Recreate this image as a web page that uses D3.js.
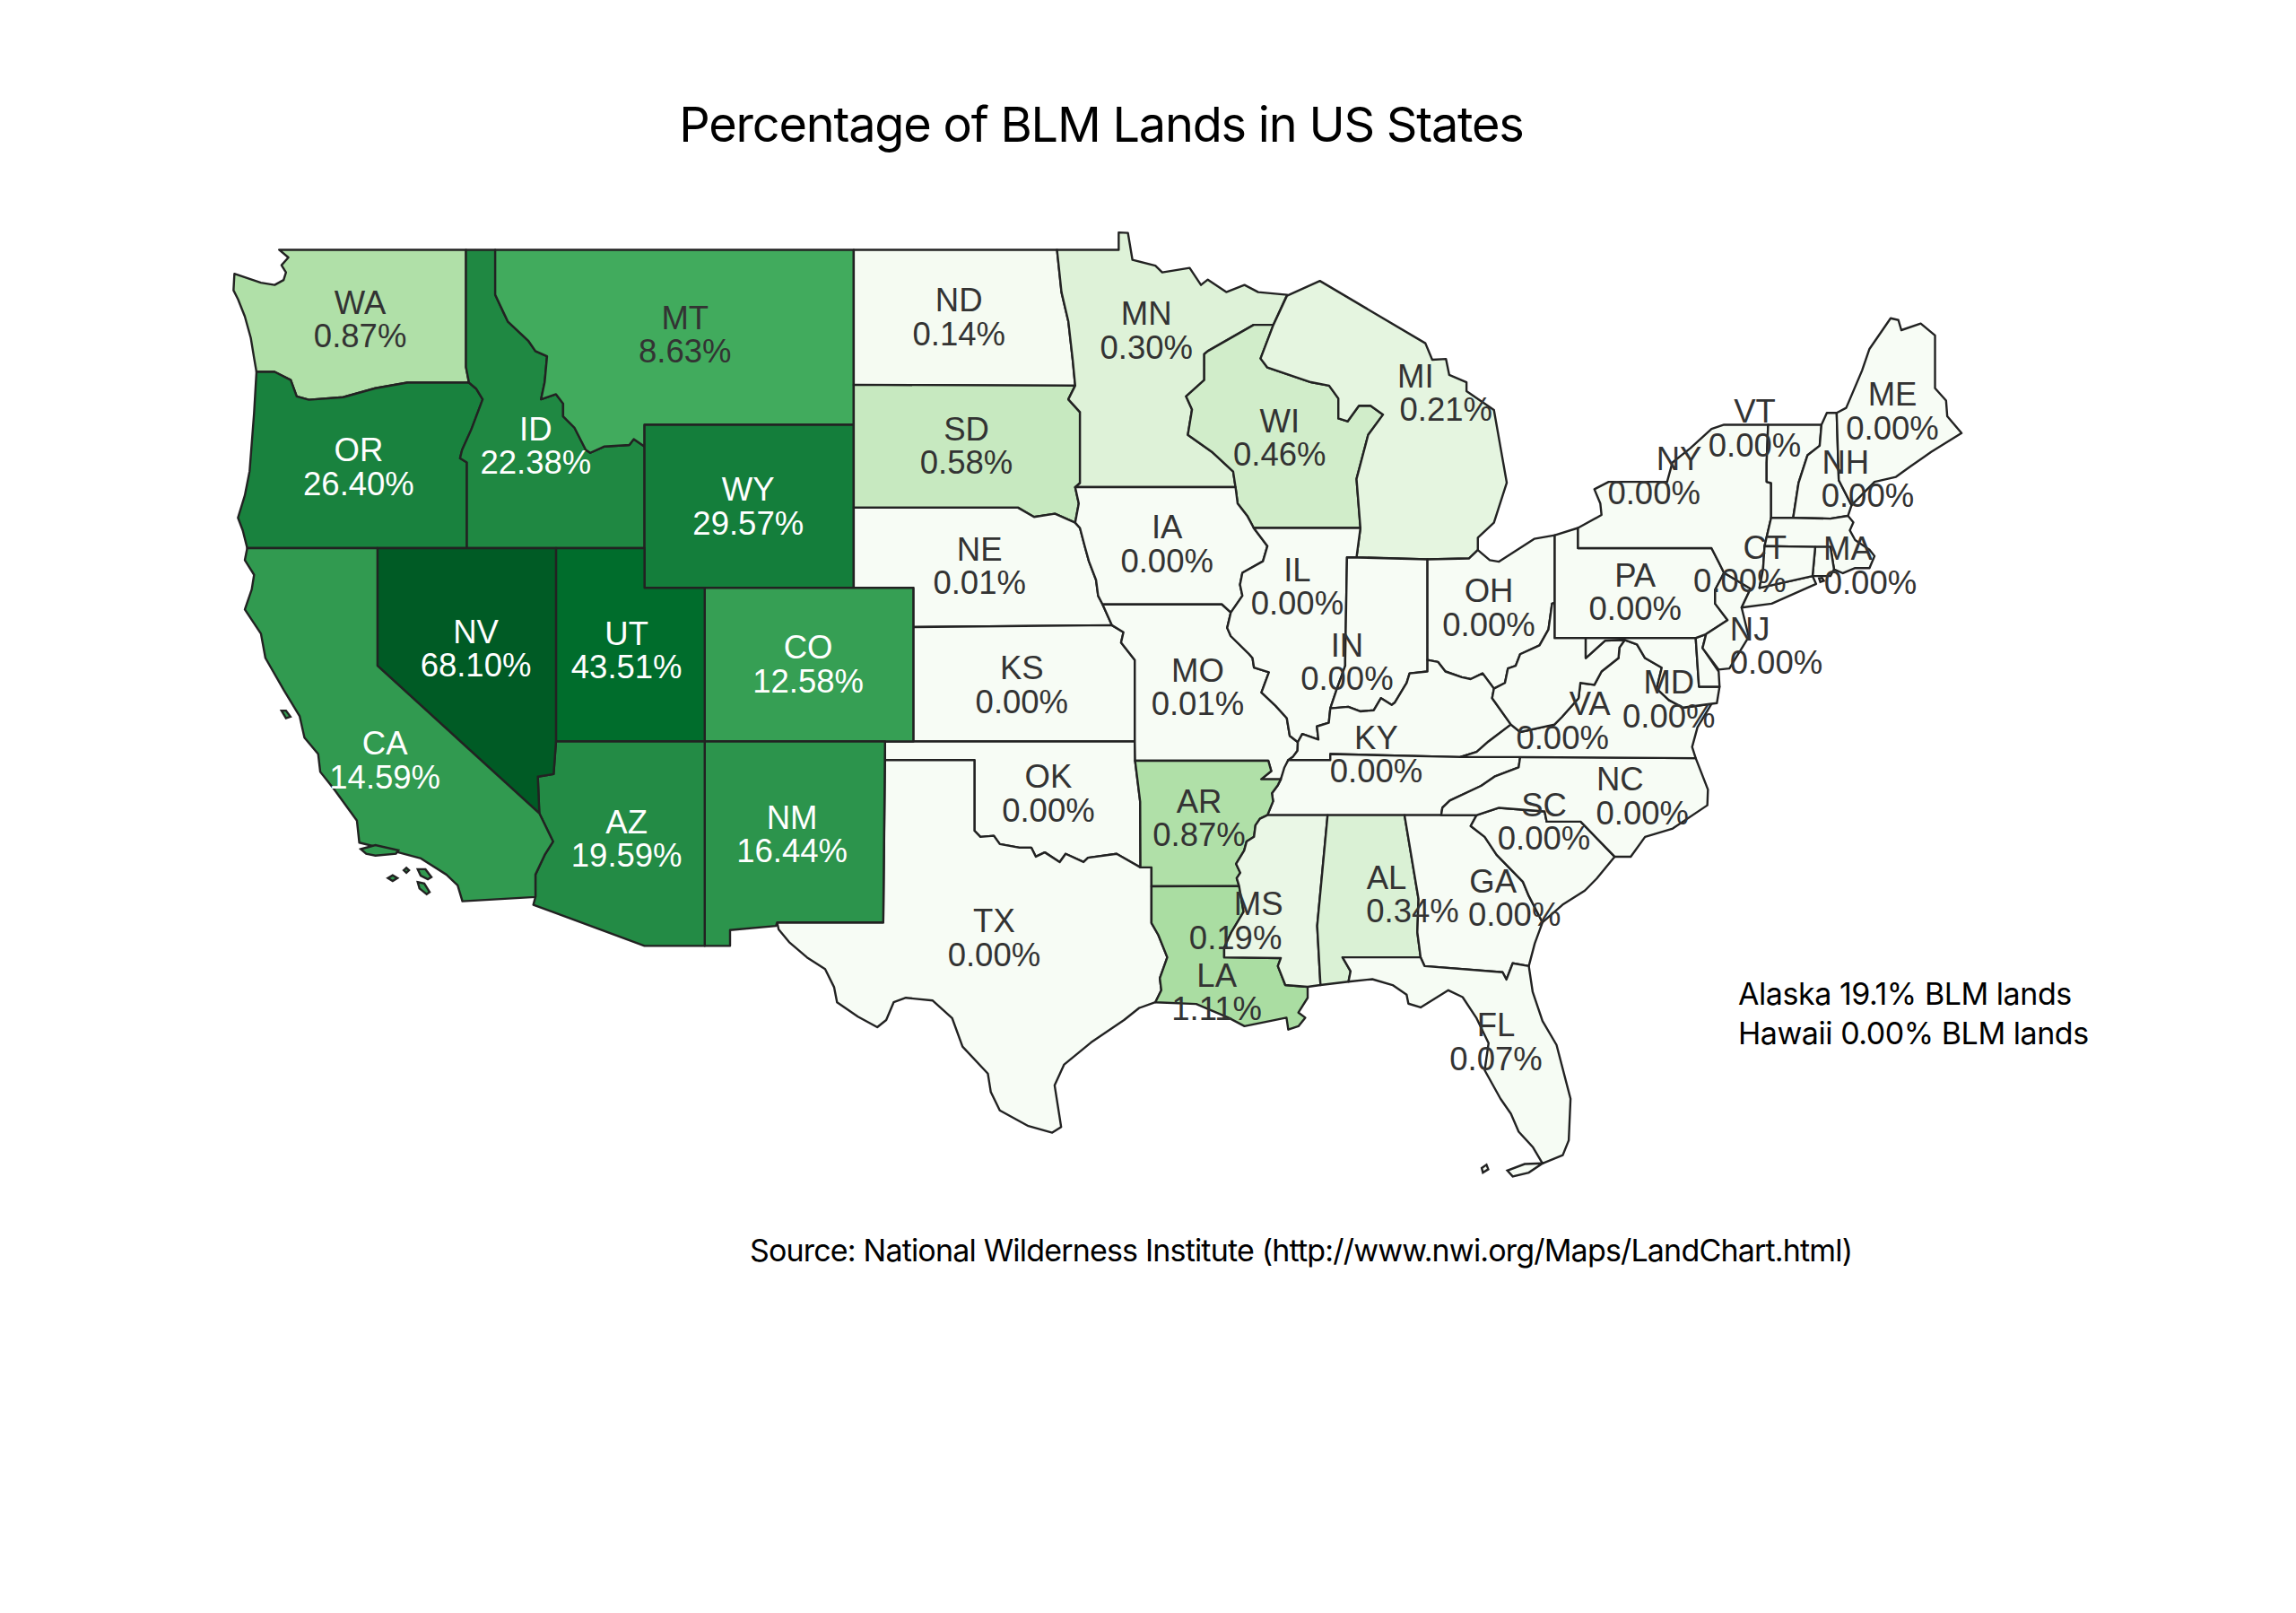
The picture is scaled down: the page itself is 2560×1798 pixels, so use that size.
<!DOCTYPE html>
<html>
<head>
<meta charset="utf-8">
<title>Percentage of BLM Lands in US States</title>
<script src="https://cdn.jsdelivr.net/npm/d3@7"></script>
<style>
  html, body { margin: 0; padding: 0; background: #fff; }
</style>
</head>
<body>
<svg id="chart" width="2560" height="1798"></svg>
<script>
// shared borders, lon/lat
var columbia = [[-124.09,46.24],[-123.48,46.24],[-122.94,46.05],[-122.74,45.67],[-122.33,45.59],[-121.18,45.65],[-120.1,45.86],[-119.03,45.99],[-116.96,45.99]];
var snake = [[-116.96,45.99],[-116.72,45.85],[-116.5,45.6],[-116.88,44.89],[-117.19,44.4],[-117.26,44.2],[-117.03,44.1],[-117.03,42]];
var bitterroot = [[-116.08,49],[-116.08,48],[-115.8,47.6],[-115.65,47.39],[-114.96,46.95],[-114.73,46.72],[-114.34,46.6],[-114.42,46],[-114.54,45.6],[-114.04,45.72],[-113.8,45.5],[-113.8,45.2],[-113.42,44.93],[-113.04,44.4],[-112.89,44.33],[-112.43,44.48],[-111.58,44.52],[-111.43,44.66],[-111.07,44.48]];
var nvCa = [[-120.03,42],[-120.03,39],[-114.6,35.05]];
var coloradoRiver = [[-114.6,35.05],[-114.14,34.27],[-114.42,33.9],[-114.73,33.35],[-114.73,32.72]];
var missouriIA = [[-96.62,42.63],[-96.46,42.5],[-96.3,42.05],[-96.16,41.67],[-95.92,41.2],[-95.85,40.8],[-95.7,40.58]];
var missouriMO = [[-95.7,40.58],[-95.39,40.05]];
var missouriKS = [[-95.39,40.05],[-95.0,39.87],[-95.08,39.6],[-94.62,39.15]];
var siouxSD = [[-96.62,43.5],[-96.5,43.1],[-96.62,42.63]];
var redRiverND = [[-96.62,45.92],[-96.7,46.5],[-96.85,47.4],[-97.08,48.06],[-97.23,49]];
var stCroix = [[-90.63,47.32],[-92.17,46.72],[-92.29,46.65],[-92.29,46.05],[-92.9,45.67],[-92.7,45.36],[-92.84,44.76],[-92.01,44.34],[-91.32,43.88],[-91.24,43.5]];
var missWI = [[-91.24,43.5],[-91.17,43.1],[-90.85,42.8],[-90.63,42.5]];
var missIA = [[-90.63,42.5],[-90.17,42.05],[-90.32,41.67],[-91.01,41.38],[-91.09,41.08],[-91.01,40.8],[-91.4,40.37]];
var missMO = [[-91.4,40.37],[-91.52,39.98],[-91.4,39.77],[-90.78,39.3],[-90.67,39.2],[-90.62,38.95],[-90.12,38.83],[-90.37,38.3],[-89.9,37.95],[-89.52,37.62],[-89.42,37.15],[-89.15,36.98]];
var missKY = [[-89.15,36.98],[-89.16,36.75],[-89.32,36.58],[-89.47,36.5]];
var missTN = [[-89.47,36.5],[-89.6,36.3],[-89.72,35.98],[-89.82,35.82],[-90.02,35.6],[-89.98,35.38],[-90.17,35]];
var missAR = [[-90.17,35],[-90.42,34.9],[-90.57,34.72],[-90.62,34.4],[-90.87,34.27],[-90.95,34.02],[-91.22,33.65],[-91.08,33.4],[-91.2,33.25],[-91.12,33.03]];
var missLA = [[-91.12,33.03],[-90.97,32.3],[-91.38,31.72],[-91.62,31.28],[-91.62,31],[-89.72,30.98],[-89.82,30.75],[-89.57,30.2]];
var ohioIL = [[-89.15,36.98],[-89,37.2],[-88.46,37.05],[-88.51,37.4],[-88.11,37.5],[-88.06,37.88]];
var wabash = [[-88.06,37.88],[-87.86,38.35],[-87.56,39],[-87.56,39.15],[-87.5,41.77]];
var ohioIN = [[-88.06,37.88],[-87.46,37.92],[-87.06,37.8],[-86.6,37.83],[-86.36,38.15],[-86,37.97],[-85.9,38.03],[-85.5,38.55],[-85.4,38.8],[-84.8,38.85],[-84.8,39.15]];
var ohioOH = [[-84.8,39.15],[-84.45,39.1],[-84.2,38.85],[-83.65,38.7],[-83.35,38.65],[-82.95,38.8],[-82.57,38.4]];
var ohioWV = [[-82.57,38.4],[-82.2,38.55],[-82.1,38.93],[-81.84,39],[-81.69,39.3],[-81.04,39.53],[-80.74,39.94],[-80.62,40.6],[-80.53,40.62]];
var redRiverTX = [[-100,34.57],[-99.8,34.4],[-99.35,34.43],[-99.15,34.2],[-98.49,34.1],[-98.09,34.1],[-97.94,33.85],[-97.64,33.97],[-97.14,33.7],[-96.94,33.93],[-96.34,33.7],[-96.19,33.82],[-95.23,33.93],[-94.43,33.55]];
var sabine = [[-94.06,33.02],[-94.06,31.98],[-93.83,31.64],[-93.53,31],[-93.78,30.4],[-93.73,30.05],[-93.93,29.7]];
var tnNc = [[-81.69,36.58],[-81.74,36.3],[-82.55,36.05],[-83,35.8],[-84.05,35.4],[-84.3,35.2],[-84.34,35]];
var ncSc = [[-78.52,33.85],[-79.66,34.82],[-80.8,34.82],[-80.87,35.1],[-82.4,35.2],[-83.15,35]];
var savannah = [[-83.15,35],[-83.35,34.7],[-82.88,34.4],[-82.48,33.9],[-81.6,33.15],[-81.4,32.75],[-80.94,32]];
var gaFl = [[-81.4,30.75],[-81.94,30.83],[-82.15,30.36],[-82.28,30.57],[-84.9,30.75],[-85.03,31]];
var alGa = [[-85.57,35],[-85.1,32.66],[-85.14,31.72],[-85.03,31]];
var msAl = [[-88.15,35],[-88.5,31.9],[-88.39,30.2]];
var kyVa = [[-83.7,36.58],[-83.15,36.72],[-82.75,37],[-82,37.45]];
var bigSandy = [[-82.57,38.4],[-82.63,38.15],[-82,37.45]];
var vaWv = [[-82,37.45],[-81.69,37.25],[-80.54,37.45],[-80.29,37.65],[-79.73,38.15],[-79.67,38.55],[-79.2,38.5],[-78.96,38.85],[-78.39,39.2],[-78.36,39.47],[-78.18,39.67]];
var potomac = [[-78.18,39.67],[-77.77,39.55],[-77.5,39.2],[-76.94,38.95],[-77.11,38.4],[-76.7,38.1],[-76.22,37.9],[-75.27,38]];
var delawareRiver = [[-75.27,42],[-75.03,41.65],[-74.85,41.38],[-75.15,40.95],[-75.15,40.6],[-74.73,40.18],[-75.45,39.82]];
var ctCoast = [[-73.66,41],[-71.88,41.3]];
var ctRiverVt = [[-71.58,45],[-71.64,44.5],[-72.05,44.27],[-72.35,43.6],[-72.53,42.75]];
var vtNy = [[-73.37,45],[-73.42,44.1],[-73.42,43.63],[-73.27,43.6],[-73.27,42.75]];
var nyMaCt = [[-73.27,42.75],[-73.49,42.05],[-73.54,41.47],[-73.66,41]];
var neMe = [[-71.07,45.28],[-71,43.67],[-70.57,43.06]];
var wiMi = [[-89.97,47.32],[-90.4,46.55],[-90.17,46.34],[-88.71,46],[-88.1,45.92],[-87.79,45.62],[-87.79,45.15],[-87.48,45.08],[-87.1,45.45],[-86.71,45.45],[-86.29,45.24],[-86.79,44.76],[-87.18,43.7],[-87.05,42.5]];

function rev(a) { return a.slice().reverse(); }
function ring() { return [].concat.apply([], arguments); }

// one outline per state
var WA = ring([[-123.33,49],[-123.02,48.83],[-123.25,48.66],[-123.1,48.5],[-123.18,48.33],[-123.48,48.22],[-123.94,48.27],[-124.83,48.47],[-124.86,48.1],[-124.71,47.9],[-124.48,47.51],[-124.28,47.02],[-124.17,46.56]], columbia, [[-117.06,46.35],[-117.06,49]]);
var OR = ring(columbia, snake, [[-124.4,42],[-124.55,42.44],[-124.71,42.75],[-124.48,43.3],[-124.32,43.89],[-124.17,45.28]]);
var ID = ring([[-117.06,49]], bitterroot, [[-111.07,42]], rev(snake), [[-117.06,46.35]]);
var MT = ring(bitterroot, [[-111.07,45],[-104.05,45],[-104.05,49]]);
var WY = [[-111.07,45],[-104.05,45],[-104.05,41],[-111.07,41]];
var ND = ring([[-104.05,49]], rev(redRiverND), [[-104.05,45.94]]);
var SD = ring([[-104.05,45.94]], [[-96.62,45.92],[-96.85,45.6],[-96.46,45.3],[-96.46,43.6]], siouxSD, [[-97.3,42.85],[-98,42.77],[-98.54,43],[-104.05,43]]);
var NE = ring([[-104.05,43],[-98.54,43],[-98,42.77],[-97.3,42.85]], missouriIA, missouriMO, [[-102.05,40],[-102.05,41],[-104.05,41]]);
var KS = ring([[-102.05,40]], missouriKS, [[-94.62,37],[-102.05,37]]);
var OK = ring([[-103,37],[-94.62,37],[-94.61,36.48],[-94.44,35.37],[-94.43,33.55]], rev(redRiverTX), [[-100,36.5],[-103,36.5]]);
var TX = ring([[-103,36.5],[-100,36.5]], redRiverTX, [[-94.06,33.55]], sabine, [[-94.48,29.53],[-94.98,29.18],[-96.09,28.52],[-96.99,27.87],[-97.31,27.25],[-97.09,26],[-97.39,25.83],[-98.19,26.03],[-99.15,26.5],[-99.45,27.05],[-99.55,27.6],[-100.4,28.4],[-100.75,29.24],[-101.4,29.75],[-102.3,29.83],[-102.71,29.7],[-102.96,29.18],[-103.26,28.97],[-103.91,29.28],[-104.61,29.7],[-104.71,30.14],[-105.01,30.66],[-105.62,31],[-106.22,31.44],[-106.57,31.8],[-106.62,32],[-103.06,32]]);
var CO = [[-109.05,41],[-102.05,41],[-102.05,37],[-109.05,37]];
var NM = [[-109.05,37],[-103,37],[-103.06,32],[-106.62,32],[-106.66,31.9],[-108.2,31.78],[-108.2,31.33],[-109.05,31.33]];
var UT = [[-114.04,42],[-111.07,42],[-111.07,41],[-109.05,41],[-109.05,37],[-114.04,37]];
var AZ = ring([[-114.04,37],[-109.05,37],[-109.05,31.33],[-111.07,31.33],[-114.8,32.5]], rev(coloradoRiver), [[-114.65,36.05],[-114.12,36.12]]);
var NV = ring([[-120.03,42],[-114.04,42],[-114.04,37],[-114.12,36.12],[-114.65,36.05]], rev(nvCa));
var CA = ring(nvCa, coloradoRiver, [[-117.18,32.6],[-117.34,33.05],[-117.72,33.35],[-118.57,33.8],[-119.33,33.97],[-120.64,34.24],[-120.72,34.85],[-121.48,35.7],[-121.95,36.18],[-122.02,36.66],[-122.48,37.1],[-122.64,37.67],[-123.17,38.36],[-123.79,39.2],[-123.94,39.83],[-124.48,40.45],[-124.25,40.96],[-124.17,41.33],[-124.48,41.7],[-124.4,42]]);
var MN = ring(redRiverND, [[-95.16,49],[-95.16,49.38],[-94.85,49.37],[-94.7,48.78],[-93.93,48.65],[-93.7,48.5],[-92.78,48.6],[-92.4,48.22],[-92.17,48.34],[-91.55,48.06],[-90.94,48.22],[-90.48,48.06],[-89.51,48],[-89.97,47.32]], stCroix, [[-96.62,43.5],[-96.46,43.6],[-96.46,45.3],[-96.85,45.6]]);
var WI = ring(wiMi, rev(missWI), rev(stCroix));
var MI = ring([[-89.51,47.98],[-88.41,48.31],[-84.87,46.9],[-84.64,46.52],[-84.18,46.54],[-84.07,46.17],[-83.49,46],[-83.49,45.79],[-82.57,45.35],[-82.14,43.61],[-82.57,42.63],[-83.11,42.26],[-83.11,41.95],[-83.41,41.74],[-84.8,41.72],[-87.18,41.77]], rev(wiMi));
var IA = ring(rev(missIA), rev(missWI), [[-96.62,43.5]], siouxSD, missouriIA, [[-91.7,40.58]]);
var MO = ring([[-95.7,40.58],[-91.7,40.58]], missMO, missKY, [[-89.72,35.98],[-90.38,35.98],[-90.04,36.2],[-90.14,36.48],[-94.61,36.48],[-94.62,37],[-94.62,39.15]], rev(missouriKS), rev(missouriMO));
var IL = ring([[-90.63,42.5],[-87.05,42.5],[-87.18,41.77],[-87.5,41.77]], rev(wabash), rev(ohioIL), rev(missMO), rev(missIA));
var IN = ring([[-87.5,41.77],[-84.8,41.72],[-84.8,39.15]], rev(ohioIN), wabash);
var OH = ring([[-84.8,41.72],[-83.41,41.74],[-83.11,41.95],[-82.71,41.7],[-82.4,41.66],[-81.22,42.23],[-80.53,42.32]], rev(ohioWV), rev(ohioOH));
var KY = ring(ohioIL, ohioIN, ohioOH, bigSandy, rev(kyVa), [[-88.06,36.66],[-88.06,36.5],[-89.47,36.5]], rev(missKY));
var TN = ring([[-89.47,36.5],[-88.06,36.5],[-88.06,36.66],[-83.7,36.58]], tnNc, [[-88.15,35]], rev(missTN));
var AR = ring([[-94.61,36.48],[-90.14,36.48],[-90.04,36.2],[-90.38,35.98],[-89.72,35.98],[-89.82,35.82],[-90.02,35.6],[-89.98,35.38]], missAR, [[-94.06,33.02],[-94.06,33.55],[-94.43,33.55],[-94.44,35.37]]);
var LA = ring(missLA, [[-88.82,30.15],[-88.82,29.83],[-89.13,29.4],[-88.9,29.25],[-89.13,29],[-89.47,28.9],[-89.53,29.25],[-90.27,29.12],[-90.94,29],[-91.48,29.25],[-92.56,29.65],[-93.93,29.7]], rev(sabine));
var MS = ring([[-90.17,35],[-88.15,35]], msAl, [[-88.82,30.15],[-89.57,30.2],[-89.82,30.75],[-89.72,30.98],[-91.62,31],[-91.62,31.28],[-91.38,31.72],[-90.97,32.3]], rev(missAR));
var AL = ring([[-88.15,35]], alGa, [[-87.65,31],[-87.38,30.6],[-87.45,30.3],[-88.39,30.2]], rev(msAl));
var GA = ring([[-85.57,35],[-84.34,35]], savannah, [[-81.2,31.4]], gaFl, rev(alGa));
var FL = ring([[-87.65,31],[-85.03,31]], rev(gaFl), [[-81.27,30],[-80.94,29.15],[-80.47,28.45],[-80,26.85],[-80.06,25.6],[-80.26,25.15],[-80.94,24.9],[-81.27,25.4],[-81.74,25.86],[-82,26.4],[-82.35,26.85],[-82.88,27.7],[-82.75,28.5],[-83.15,29.23],[-83.62,29.85],[-84.1,30.05],[-85.03,29.55],[-85.44,29.66],[-85.5,29.92],[-85.97,30.2],[-86.65,30.37],[-87.45,30.3],[-87.38,30.6]]);
var SC = ring(ncSc, savannah, [[-80.27,32.5],[-79.52,32.9],[-79.12,33.24]]);
var NC = ring([[-75.8,36.55],[-81.69,36.58]], tnNc, [[-83.15,35]], rev(ncSc), [[-77.98,33.85],[-77.5,34.4],[-76.57,34.63],[-75.41,35.27],[-75.39,35.7]]);
var VA = ring(vaWv, potomac, [[-75.74,37.38],[-75.92,36.85],[-75.8,36.55],[-81.69,36.58]], kyVa);
var WV = ring(ohioWV, [[-80.53,39.72],[-79.49,39.72],[-79.49,39.2],[-78.84,39.65]], rev(vaWv), rev(bigSandy));
var MD = ring([[-79.49,39.72],[-75.8,39.72],[-75.69,38.45],[-75,38.45],[-75.09,38.02]], rev(potomac), [[-78.84,39.65],[-79.49,39.2]]);
var DE = [[-75.8,39.72],[-75.45,39.82],[-75.57,39.46],[-75.03,38.85],[-75,38.45],[-75.69,38.45]];
var PA = ring([[-80.53,42.32],[-79.75,42.5],[-79.75,42]], delawareRiver, [[-75.8,39.72],[-80.53,39.72]]);
var NJ = [[-74.85,41.38],[-73.96,40.98],[-74.26,40.5],[-74.02,39.75],[-74.67,38.93],[-75.03,38.9],[-75.57,39.46],[-75.45,39.82],[-74.73,40.18],[-75.15,40.6],[-75.15,40.95]];
var NY = ring([[-79.75,42.5],[-78.96,42.82],[-79,43.1],[-79.2,43.45],[-78.72,43.63],[-76.76,43.63],[-76.58,44.1],[-75.98,44.44],[-75.27,44.9],[-74.85,45]], vtNy, nyMaCt, ctCoast, [[-71.76,41.1],[-73.25,40.6],[-74.26,40.5],[-73.96,40.98],[-74.85,41.38],[-75.03,41.65],[-75.27,42],[-79.75,42]]);
var VT = ring(vtNy, rev(ctRiverVt));
var NH = ring([[-71.58,45],[-71.4,45.28]], neMe, [[-70.69,42.8],[-71.28,42.73],[-72.53,42.75]], rev(ctRiverVt));
var ME = ring(neMe, rev([[-71.07,45.28],[-70.75,45.4],[-70.22,46.27],[-69.97,46.77],[-69.26,47.47],[-69,47.43],[-68.9,47.2],[-68.25,47.35],[-67.77,47.08],[-67.77,45.86],[-67.4,45.57],[-67.36,45.2],[-66.88,44.8],[-67.9,44.35],[-68.6,44],[-69.08,43.75],[-69.8,43.63],[-70.57,43.06]]));
var MA = [[-73.27,42.75],[-72.53,42.75],[-71.28,42.73],[-70.69,42.8],[-70.51,42.64],[-70.63,42.44],[-70.45,42.2],[-69.97,41.96],[-69.8,41.8],[-69.97,41.5],[-70.45,41.5],[-70.86,41.37],[-71.16,41.47],[-71.28,42.03],[-71.79,42.03],[-73.49,42.05]];
var RI = [[-71.79,42.03],[-71.28,42.03],[-71.16,41.47],[-71.28,41.3],[-71.88,41.3]];
var CT = [[-73.49,42.05],[-71.79,42.03],[-71.88,41.3],[-73.66,41],[-73.54,41.47]];

// islands, drawn with the state they belong to
var channelIslands = [[-120.59,34.06],[-120.1,34.17],[-119.33,34.03],[-119.41,33.93],[-120.1,33.88],[-120.41,33.93]];
var santaCruz = [[-119.68,33.25],[-119.52,33.33],[-119.36,33.25],[-119.52,33.17]];
var anacapa = [[-119.15,33.47],[-119.06,33.54],[-118.97,33.47],[-119.06,33.4]];
var catalina = [[-118.68,33.5],[-118.42,33.5],[-118.22,33.28],[-118.34,33.22],[-118.58,33.32]];
var clemente = [[-118.68,33.14],[-118.46,33.1],[-118.28,32.86],[-118.38,32.8],[-118.62,32.96]];
var farallon = [[-123.25,37.82],[-123.1,37.82],[-122.95,37.66],[-123.1,37.62]];
var keys = [[-80.94,24.9],[-81.54,24.88],[-82.12,24.68],[-81.94,24.5],[-81.4,24.62]];
var dryTortugas = [[-82.98,24.76],[-82.82,24.86],[-82.76,24.72],[-82.94,24.62]];
var blockIsland = [[-71.66,41.24],[-71.56,41.25],[-71.5,41.18],[-71.62,41.15]];

// percent of BLM land per state
var stateCodes = ["WA","OR","ID","MT","WY","ND","SD","NE","KS","OK","TX","CO","NM","UT","AZ","NV","CA","MN","WI","MI","IA","MO","IL","IN","OH","KY","TN","AR","LA","MS","AL","GA","FL","SC","NC","VA","WV","MD","DE","PA","NJ","NY","VT","NH","ME","MA","RI","CT"];
var statePercent = [0.87,26.40,22.38,8.63,29.57,0.14,0.58,0.01,0.00,0.00,0.00,12.58,16.44,43.51,19.59,68.10,14.59,0.30,0.46,0.21,0.00,0.01,0.00,0.00,0.00,0.00,0.00,0.87,1.11,0.19,0.34,0.00,0.07,0.00,0.00,0.00,0.00,0.00,0.00,0.00,0.00,0.00,0.00,0.00,0.00,0.00,0.00,0.00];
var stateOutlines = [WA,OR,ID,MT,WY,ND,SD,NE,KS,OK,TX,CO,NM,UT,AZ,NV,CA,MN,WI,MI,IA,MO,IL,IN,OH,KY,TN,AR,LA,MS,AL,GA,FL,SC,NC,VA,WV,MD,DE,PA,NJ,NY,VT,NH,ME,MA,RI,CT];
var islandOwners = ["CA","CA","CA","CA","CA","CA","FL","FL","RI"];
var islandOutlines = [channelIslands,santaCruz,anacapa,catalina,clemente,farallon,keys,dryTortugas,blockIsland];

// label spots: code, lon, lat, and the lon of the percent when it sits apart from the code
var labelCodes = ["WA","MT","ND","MN","OR","ID","WY","SD","WI","MI","IA","NE","NV","UT","CO","KS","MO","IL","IN","OH","PA","KY","VA","MD","NJ","NY","VT","ME","NH","CT","MA","TX","OK","NM","AZ","CA","AR","LA","MS","AL","GA","FL","NC","SC"];
var labelLon = [-120.61,-109.71,-100.52,-94.23,-120.66,-114.72,-107.59,-100.27,-89.76,-85.2,-93.54,-99.83,-116.73,-111.67,-105.58,-98.41,-92.51,-89.17,-87.5,-82.74,-77.83,-86.52,-79.35,-76.7,-73.98,-76.36,-73.82,-69.2,-70.77,-73.48,-70.69,-99.34,-97.52,-106.12,-111.67,-119.78,-92.46,-91.87,-90.47,-86.17,-82.6,-82.5,-78.34,-80.89];
var labelLat = [47.45,47.1,47.5,47.2,44,44.5,43.04,44.5,44.7,45.75,42.1,41.56,39.45,39.4,39.04,38.5,38.44,41.03,39.1,40.5,40.9,36.66,37.56,38.12,39.52,43.78,44.92,45.32,43.7,41.6,41.57,31.56,35.6,34.48,34.35,36.5,34.92,30,32.05,32.8,32.7,28.54,35.53,34.82];
var percentLonApart = {VA:-80.27,NJ:-73.1,NY:-77.2,NH:-70.03,CT:-74.32,MA:-69.94,GA:-81.88,NC:-77.59,MI:-84.18,AL:-85.3,MS:-91.24};

var titleText = "Percentage of BLM Lands in US States";
var sourceText = "Source: National Wilderness Institute (http://www.nwi.org/Maps/LandChart.html)";
var noteLines = ["Alaska 19.1% BLM lands","Hawaii 0.00% BLM lands"];

var svg = d3.select("#chart");

// the map is a plain mercator
var projection = d3.geoMercator().scale(1904).translate([4409.6, 2151.6]);
var outline = d3.line().curve(d3.curveLinearClosed);

var color = d3.scaleLinear()
  .domain([0,0.15,0.21,0.58,0.87,1.11,4,8.63,19.6,43.51,100])
  .range(["#f7fcf5","#f5fbf2","#e5f5e0","#c7e9c0","#b0e0a8","#aadda2","#74c476","#41ab5d","#238b45","#006d2c","#00441b"]);

var percentOf = {};
stateCodes.forEach(function(c,i){ percentOf[c] = statePercent[i]; });

function drawShape(points) { return outline(points.map(function(p){ return projection(p); })); }

var map = svg.append("g");
map.selectAll("path.state")
  .data(stateCodes)
  .enter().append("path")
  .attr("class","state")
  .attr("d", function(c,i){ return drawShape(stateOutlines[i]); })
  .attr("fill", function(c){ return color(percentOf[c]); })
  .attr("stroke","#222")
  .attr("stroke-width",2.4)
  .attr("stroke-linejoin","round");

map.selectAll("path.island")
  .data(islandOutlines)
  .enter().append("path")
  .attr("class","island")
  .attr("d", drawShape)
  .attr("fill", function(d,i){ return color(percentOf[islandOwners[i]]); })
  .attr("stroke","#222")
  .attr("stroke-width",2.4);

// state labels
var labels = svg.append("g")
  .attr("font-family","'Liberation Sans', Arial, sans-serif")
  .attr("font-size",36.5)
  .attr("text-anchor","middle");

labelCodes.forEach(function(c,i){
  var at = projection([labelLon[i],labelLat[i]]);
  var pctLon = percentLonApart[c] !== undefined ? percentLonApart[c] : labelLon[i];
  var pctX = projection([pctLon,labelLat[i]])[0];
  var fill = percentOf[c] >= 12 ? "#fff" : "#333";
  labels.append("text").attr("x",at[0]).attr("y",at[1]-6).attr("fill",fill).text(c);
  labels.append("text").attr("x",pctX).attr("y",at[1]+31.5).attr("fill",fill).text(percentOf[c].toFixed(2)+"%");
});

svg.append("text")
  .attr("x",1228).attr("y",158)
  .attr("text-anchor","middle")
  .attr("font-family","Inter, 'Liberation Sans', sans-serif")
  .attr("font-size",54)
  .attr("letter-spacing",-1.2)
  .attr("fill","#000")
  .text(titleText);

svg.append("text")
  .attr("x",836).attr("y",1406)
  .attr("font-family","Inter, 'Liberation Sans', sans-serif")
  .attr("font-size",34)
  .attr("letter-spacing",-0.82)
  .attr("fill","#000")
  .text(sourceText);

svg.selectAll("text.note")
  .data(noteLines)
  .enter().append("text")
  .attr("class","note")
  .attr("x",1938)
  .attr("y",function(d,i){ return 1120 + i*44; })
  .attr("font-family","Inter, 'Liberation Sans', sans-serif")
  .attr("font-size",34)
  .attr("letter-spacing",-0.45)
  .attr("fill","#000")
  .text(function(d){ return d; });
</script>
</body>
</html>
